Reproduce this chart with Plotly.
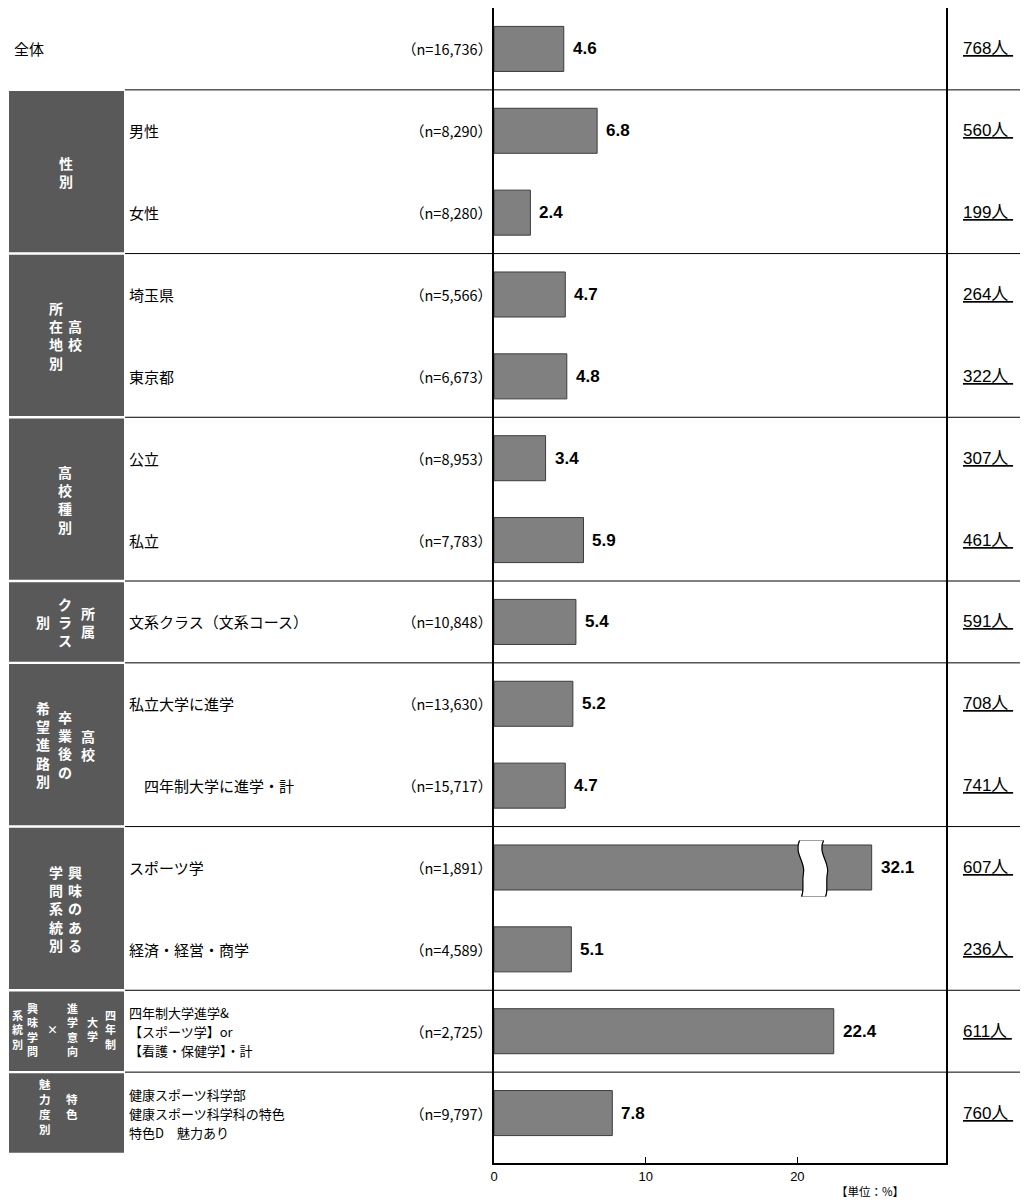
import plotly.graph_objects as go

# ---------------- data ----------------
categories = [
    "全体", "男性", "女性", "埼玉県", "東京都", "公立", "私立",
    "文系クラス（文系コース）", "私立大学に進学", "\u3000四年制大学に進学・計",
    "スポーツ学", "経済・経営・商学",
    "四年制大学進学&<br>【スポーツ学】or<br>【看護・保健学】・計",
    "健康スポーツ科学部<br>健康スポーツ科学科の特色<br>特色D\u3000魅力あり",
]
n_values = ["16,736", "8,290", "8,280", "5,566", "6,673", "8,953", "7,783",
            "10,848", "13,630", "15,717", "1,891", "4,589", "2,725", "9,797"]
values = [4.6, 6.8, 2.4, 4.7, 4.8, 3.4, 5.9, 5.4, 5.2, 4.7, 32.1, 5.1, 22.4, 7.8]
counts = [768, 560, 199, 264, 322, 307, 461, 591, 708, 741, 607, 236, 611, 760]

# group boxes: (first row, last row, columns of vertical text [text, x-pixel], font size, y shift px)
groups = [
    (1, 2, [("性別", 66)], 14, 0),
    (3, 4, [("所在地別", 56), ("高校", 75)], 14, 0),
    (5, 6, [("高校種別", 65)], 14, 0),
    (7, 7, [("別", 43), ("クラス", 65), ("所属", 88)], 14, 0),
    (8, 9, [("希望進路別", 43), ("卒業後の", 65), ("高校", 88)], 14, 0),
    (10, 11, [("学問系統別", 56), ("興味のある", 75)], 14, 0),
    (12, 12, [("系統別", 18), ("興味学問", 33), ("×", 52), ("進学意向", 72),
              ("大学", 92), ("四年制", 110)], 11, 2),
    (13, 13, [("魅力度別", 45), ("特色", 72)], 11.5, 7),
]
x_ticks = [0, 10, 20]
unit_label = "【単位：%】"

# ---------------- layout constants (page pixels) ----------------
PAGE_W, PAGE_H = 1028, 1202
BODY = 8                     # default body margin of the html page
L, R, T, B = 494, 946, 8, 1163
XMAX = 29.8
Y_TOP, Y_BOT = -0.5, 13.61
XPX = (R - L) / XMAX
YPX = (B - T) / (Y_BOT - Y_TOP)
DISPLAY_CAP = 24.9   # truncated bar length for off-scale values
BREAK_X = 21.0       # position of the break symbol
LINE_GAP = 19        # line spacing of multi-line row labels (px)

JP = "Noto Sans CJK JP"
LAT = "Liberation Sans"


def pxx(px):
    return (px - L) / (R - L)


def pxy(py):
    return (B - py) / (B - T)


rows = list(range(len(values)))
disp = [min(v, DISPLAY_CAP) if v > XMAX else v for v in values]

fig = go.Figure()
fig.add_trace(go.Bar(
    x=disp, y=rows, orientation="h", width=0.55,
    marker=dict(color="#808080", line=dict(color="#3c3c3c", width=1)),
    hoverinfo="skip", showlegend=False,
))

shapes = []
annotations = []

# group boxes and separators
for (r0, r1, cols, fs, ys) in groups:
    shapes.append(dict(type="rect", xref="paper", yref="y",
                       x0=pxx(9), x1=pxx(124), y0=r0 - 0.5 + 0.015, y1=r1 + 0.5 - 0.015,
                       fillcolor="#595959", line=dict(width=0), layer="below"))
    shapes.append(dict(type="line", xref="paper", yref="y",
                       x0=pxx(125), x1=pxx(1028), y0=r0 - 0.5, y1=r0 - 0.5,
                       line=dict(color="black", width=1)))
    yc = (r0 + r1) / 2
    for txt, cx in cols:
        annotations.append(dict(
            xref="paper", yref="y", x=pxx(cx), y=yc, xanchor="center", yanchor="middle",
            yshift=ys, text="<br>".join(list(txt)), showarrow=False, align="center",
            font=dict(family=JP, size=fs, color="white", weight="bold")))

# row labels
for i, cat in enumerate(categories):
    lines = cat.split("<br>")
    nl = len(lines)
    for k, ln in enumerate(lines):
        annotations.append(dict(
            xref="paper", yref="y", x=pxx(12 if i == 0 else 127), y=i,
            yshift=-(k - (nl - 1) / 2) * LINE_GAP,
            xanchor="left", yanchor="middle", align="left", showarrow=False,
            text=ln, font=dict(family=JP, size=13 if nl > 1 else 15, color="black")))
    annotations.append(dict(
        xref="paper", yref="y", x=pxx(494), y=i, xanchor="right", yanchor="middle",
        showarrow=False, text="（n=%s）" % n_values[i],
        font=dict(family=JP, size=14.5, color="black")))
    annotations.append(dict(
        xref="x", yref="y", x=disp[i], y=i, xanchor="left", yanchor="middle",
        xshift=7, showarrow=False, text="<b>%.1f</b>" % values[i],
        font=dict(family=LAT, size=17, color="black")))
    annotations.append(dict(
        xref="paper", yref="y", x=pxx(961), y=i, xanchor="left", yanchor="middle",
        showarrow=False, text="<u>%d人\u00a0</u>" % counts[i],
        font=dict(family=LAT + ", " + JP, size=17, color="black")))

# break symbol on off-scale bars
for i, v in enumerate(values):
    if v > XMAX:
        def P(px, py):
            return "%.4f,%.4f" % (BREAK_X + px / XPX, i + py / YPX)
        fill_path = ("M " + P(-13, -27) + " C " + P(-19, -15) + " " + P(-7, -5) + " " + P(-9, 5) +
                     " C " + P(-11, 15) + " " + P(-8, 22) + " " + P(-11, 29) +
                     " L " + P(13, 29) + " C " + P(16, 22) + " " + P(13, 15) + " " + P(15, 5) +
                     " C " + P(17, -5) + " " + P(5, -15) + " " + P(11, -27) + " Z")
        shapes.append(dict(type="path", xref="x", yref="y", path=fill_path,
                           fillcolor="white", line=dict(color="#a0a0a0", width=1), layer="above"))
        left_path = ("M " + P(-13, -27) + " C " + P(-19, -15) + " " + P(-7, -5) + " " + P(-9, 5) +
                     " C " + P(-11, 15) + " " + P(-8, 22) + " " + P(-11, 29))
        right_path = ("M " + P(11, -27) + " C " + P(5, -15) + " " + P(17, -5) + " " + P(15, 5) +
                      " C " + P(13, 15) + " " + P(16, 22) + " " + P(13, 29))
        for pth in (left_path, right_path):
            shapes.append(dict(type="path", xref="x", yref="y", path=pth,
                               fillcolor="rgba(0,0,0,0)", line=dict(color="black", width=1.2),
                               layer="above"))

annotations.append(dict(xref="paper", yref="paper", x=pxx(870), y=pxy(1191),
                        xanchor="center", yanchor="middle", showarrow=False,
                        text=unit_label, font=dict(family=JP, size=11.5, color="black")))

fig.update_layout(
    width=PAGE_W - BODY, height=PAGE_H - BODY,
    margin=dict(l=L - BODY, r=PAGE_W - R, t=T - BODY, b=PAGE_H - B, pad=0),
    paper_bgcolor="white", plot_bgcolor="white",
    showlegend=False,
    shapes=shapes, annotations=annotations,
    xaxis=dict(range=[0, XMAX], tickvals=x_ticks, ticks="inside", ticklen=6, tickwidth=1,
               tickcolor="black", showline=True, linewidth=2, linecolor="black",
               showgrid=False, zeroline=False,
               tickfont=dict(family=LAT, size=13, color="black"), fixedrange=True),
    yaxis=dict(range=[Y_BOT, Y_TOP], showticklabels=False, ticks="", showline=True,
               mirror=True, linewidth=2, linecolor="black", showgrid=False, zeroline=False,
               fixedrange=True),
)

fig.write_html("out.html")
